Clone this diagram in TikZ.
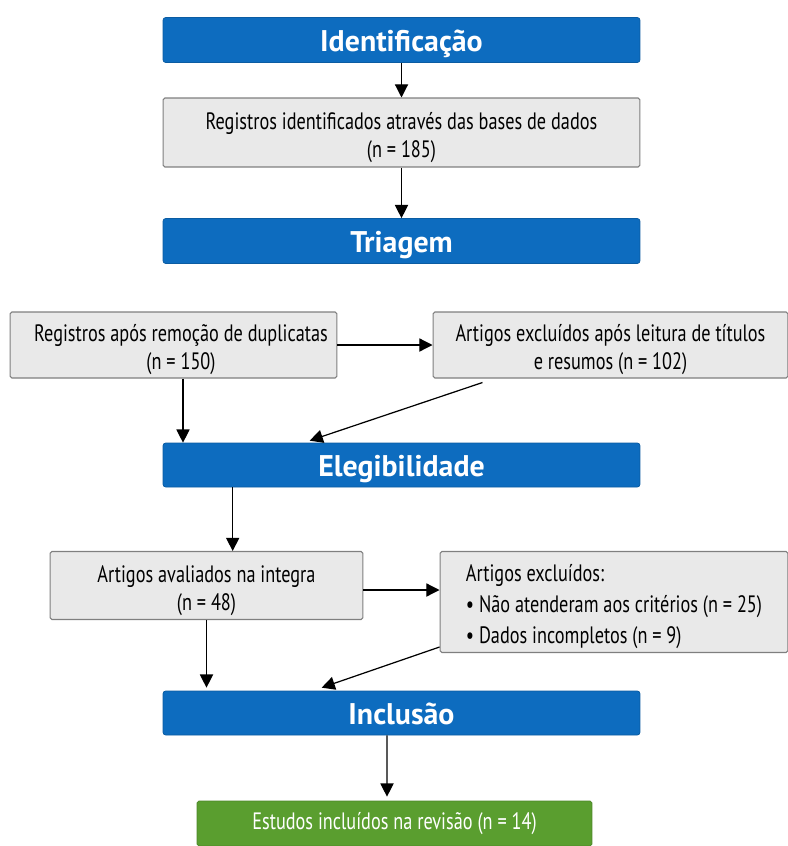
\documentclass[tikz,border=0pt]{standalone}
\usepackage{fontspec}
\setmainfont{PT Sans}
\newfontfamily\boxfont{PT Sans}[FakeStretch=0.77]
\usepackage{xcolor}
\usepackage{tikz}
\usetikzlibrary{arrows.meta}
\usetikzlibrary{positioning}

\definecolor{fasebox}{HTML}{0D6CBF}
\definecolor{cinzabox}{HTML}{E9E9E9}
\definecolor{cinzaborda}{HTML}{7F7F7F}
\definecolor{verdebox}{HTML}{5A9E2F}

% folga no topo da primeira linha (desce o texto na caixa)
\newcommand{\folga}{\rule{0pt}{15pt}}

\begin{document}
\begin{tikzpicture}[x=0.02cm, y=-0.02cm,
    fase/.style={fill=fasebox, draw=fasebox!85!black, rounded corners=1.5pt, text=white,
                 minimum width=9.54cm, minimum height=0.9cm, inner sep=0pt,
                 text height=13pt, text depth=0pt,
                 font=\fontsize{17}{19}\selectfont\bfseries},
    caixa/.style={fill=cinzabox, draw=cinzaborda, line width=0.6pt, rounded corners=1pt,
                  align=center, inner sep=0pt, font=\boxfont\fontsize{13.5}{16}\selectfont},
    seta/.style={-{Triangle[length=7.5pt, width=7.5pt]}, line width=0.7pt}]

            \useasboundingbox (0,0) rectangle (788,846);

            \draw (401.5,40) node[fase]                                             (ident) {Identificação};
            \draw (401.5,132.5) node[caixa, minimum width=9.54cm, minimum height=1.38cm] (regid) {\folga Registros identificados através das bases de dados\\(n = 185)};
            \draw (401.5,241) node[fase]                                            (triag) {Triagem};
            \draw (173.5,345) node[caixa, minimum width=6.54cm, minimum height=1.32cm]  (regdup) {\folga\hspace*{0.3cm}Registros após remoção de duplicatas\\\hspace*{0.3cm}(n = 150)};
            \draw (610.5,345) node[caixa, minimum width=7.1cm, minimum height=1.32cm]   (exctit) {\folga Artigos excluídos após leitura de títulos\\e resumos (n = 102)};
            \draw (401.5,465) node[fase, minimum height=0.88cm]                      (elegib) {Elegibilidade};
            \draw (206.5,585.5) node[caixa, minimum width=6.26cm, minimum height=1.36cm] (avali) {\folga Artigos avaliados na integra\\(n = 48)};
            \draw (614,602) node[caixa, align=left, minimum width=6.96cm,
                                 minimum height=2.02cm, font=\boxfont\fontsize{13.5}{16.5}\selectfont]  (excl) {\folga Artigos excluídos:\\[1pt]
                                 \textbullet\ Não atenderam aos critérios (n = 25)\\[1pt]
                                 \textbullet\ Dados incompletos (n = 9)};
            \draw (401.5,713) node[fase, minimum height=0.88cm]                      (inclu) {Inclusão};
            \draw (394.5,823.5) node[fill=verdebox, draw=verdebox!85!black, rounded corners=1pt, text=white,
                                     minimum width=7.9cm, minimum height=0.9cm, inner sep=0pt,
                                     font=\boxfont\fontsize{13.5}{16}\selectfont]   (estud) {Estudos incluídos na revisão (n = 14)};

            \draw[seta] (ident) -- (regid);
            \draw[seta] (regid) -- (triag);
            \draw[seta] (regdup) -- (exctit);
            \draw[seta] ([xshift=0.19cm]regdup.south) -- ([xshift=0.19cm]regdup.south |- elegib.north);
            \draw[seta] ([xshift=1cm, yshift=-0.08cm]exctit.south west) -- ([xshift=2.94cm, yshift=0.04cm]elegib.north west);
            \draw[seta] ([xshift=1.4cm]elegib.south west) -- ([xshift=1.4cm]elegib.south west |- avali.north);
            \draw[seta] ([yshift=-0.09cm]avali.east) -- ([yshift=-0.09cm]avali.east -| excl.west);
            \draw[seta] (avali.south) -- ([yshift=0.06cm]avali.south |- inclu.north);
            \draw[seta] ([yshift=0.12cm]excl.south west) -- ([xshift=3.18cm, yshift=0.06cm]inclu.north west);
            \draw[seta] ([xshift=-0.29cm]inclu.south) -- ([xshift=-0.15cm, yshift=0.08cm]estud.north);

            \end{tikzpicture}
\end{document}
